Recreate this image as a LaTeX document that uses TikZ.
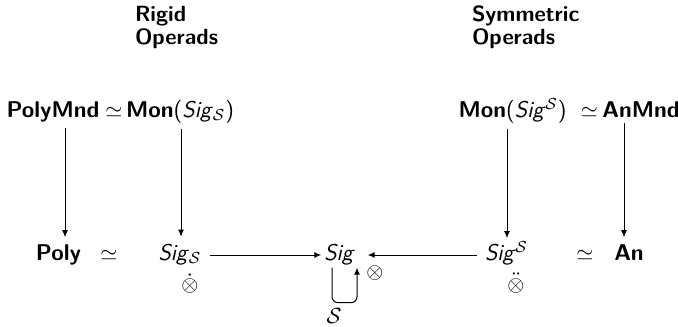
\documentclass[tikz,border=0pt]{standalone}
\usepackage{fontspec}
\usepackage{amsmath}
\usetikzlibrary{arrows.meta}
\renewcommand{\familydefault}{\sfdefault}
\newcommand{\Sg}{\textsf{\itshape Sig}}
\begin{document}
\begin{tikzpicture}[x=0.5pt,y=-0.5pt,
  every node/.style={inner sep=0pt,outer sep=0pt,font=\fontsize{11.4}{13}\selectfont\sffamily},
  lbl/.style={anchor=base},
  hd/.style={anchor=base west,font=\fontsize{11}{13}\selectfont\sffamily\bfseries},
  arr/.style={-{Latex[length=3.5pt,width=3pt]},line width=0.5pt}]
\useasboundingbox (0,0) rectangle (678,326);

% column headings
\node[hd] (rigid)  at (135,22) {Rigid};
\node[hd] (opL)    at (135,45) {Operads};
\node[hd] (symm)   at (472,22) {Symmetric};
\node[hd] (opR)    at (472,45) {Operads};

% top row: monads
\node[lbl] (polymnd) at (53,117)    {\textbf{PolyMnd}};
\node[lbl] (simA)    at (114,117)   {$\simeq$};
\node[lbl] (monL)    at (180,117)   {\textbf{Mon}(\Sg$_{\mathcal{S}}$)};
\node[lbl] (monR)    at (512.5,117) {\textbf{Mon}(\Sg$^{\mathcal{S}}$)};
\node[lbl] (simB)    at (589.5,117) {$\simeq$};
\node[lbl] (anmnd)   at (641,117)   {\textbf{AnMnd}};

% bottom row: signatures
\node[lbl] (poly) at (58.5,260) {\textbf{Poly}};
\node[lbl] (simC) at (109,260)  {$\simeq$};
\node[lbl] (sigL) at (180,260)  {\Sg$_{\mathcal{S}}$};
\node[lbl] (sig)  at (339.5,260) {\Sg};
\node[lbl] (sigR) at (506.5,260) {\Sg$^{\mathcal{S}}$};
\node[lbl] (simD) at (585,260)  {$\simeq$};
\node[lbl] (an)   at (629,260)  {\textbf{An}};

% tensor products
\node[lbl] (tL) at (190,291.5) {$\dot{\otimes}$};
\node[lbl] (tM) at (375,278.5) {$\otimes$};
\node[lbl] (tR) at (516,291) {$\ddot{\otimes}$};

% column positions of the vertical arrows
\coordinate (c1) at (65,0);
\coordinate (c2) at (181,0);
\coordinate (c3) at (507,0);
\coordinate (c4) at (624,0);

\draw[arr,shorten <=3pt,shorten >=3.5pt] (polymnd.south -| c1) -- (poly.north -| c1);
\draw[arr,shorten <=3pt,shorten >=3.5pt] (monL.south -| c2) -- (sigL.north -| c2);
\draw[arr,shorten <=3pt,shorten >=1.5pt] (monR.south -| c3) -- (sigR.north -| c3);
\draw[arr,shorten <=3pt,shorten >=3.5pt] (anmnd.south -| c4) -- (an.north -| c4);

% horizontal arrows into Sig
\draw[arr,shorten <=4.5pt,shorten >=1.5pt] (sigL.east |- 0,255) -- (sig.west |- 0,255);
\draw[arr,shorten <=4pt,shorten >=6.5pt] (sigR.west |- 0,255) -- (sig.east |- 0,255);

% the loop on Sig
\draw[arr,rounded corners=3pt]
  ([xshift=-3.75pt,yshift=-1.5pt]sig.south) -- ++(0,-17.5pt)
  -| ([xshift=8.75pt,yshift=-1.5pt]sig.south);
\node (loopS) at (334,316) {$\mathcal{S}$};
\end{tikzpicture}
\end{document}
